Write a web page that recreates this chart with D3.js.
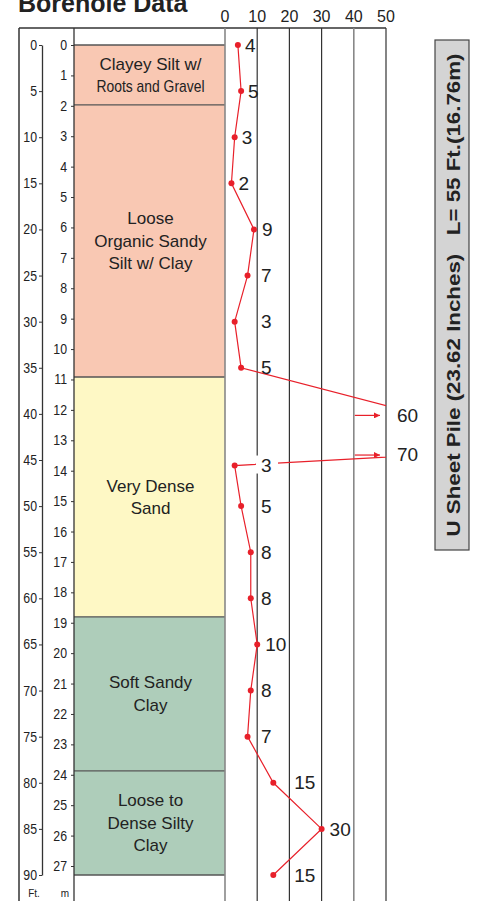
<!DOCTYPE html>
<html><head><meta charset="utf-8">
<script src="https://cdn.jsdelivr.net/npm/d3@7/dist/d3.min.js"></script>
<style>
html,body{margin:0;padding:0;background:#fff;}
svg{display:block;font-family:"Liberation Sans",Arial,sans-serif;}
</style></head>
<body>
<svg id="chart" width="481" height="901"></svg>
<script>
// ---- data ----
const ftTicks = [0,5,10,15,20,25,30,35,40,45,50,55,60,65,70,75,80,85,90];
const mTicks = [0,1,2,3,4,5,6,7,8,9,10,11,12,13,14,15,16,17,18,19,20,21,22,23,24,25,26,27];
const nTicks = [0,10,20,30,40,50];
const layerTopFt = [0, 6.5, 36, 62, 78.7];
const layerBottomFt = [6.5, 36, 62, 78.7, 90];
const layerNames = [
  ["Clayey Silt w/","Roots and Gravel"],
  ["Loose","Organic Sandy","Silt w/ Clay"],
  ["Very Dense","Sand"],
  ["Soft Sandy","Clay"],
  ["Loose to","Dense Silty","Clay"]
];
const sptDepthFt = [0,5,10,15,20,25,30,35,40,44.3,45.6,50,55,60,65,70,75,80,85,90];
const sptN = [4,5,3,2,9,7,3,5,60,70,3,5,8,8,10,8,7,15,30,15];
const title = "Borehole Data";
const pileLabel = "U Sheet Pile (23.62 Inches)   L= 55 Ft.(16.76m)";

// ---- layout ----
const svg = d3.select("#chart");
const layerColors = ["#f9c8b3","#f9c8b3","#fef8c5","#aecdba","#aecdba"];
const red = "#e8202a";
const boxLeft = 19, boxTop = 28, H = 901;
const ftAxisX = 42, colLeft = 74;

const y = d3.scaleLinear().domain([0,90]).range([45,875]);
const yM = d3.scaleLinear().domain([0,27]).range([45,866]);
const x = d3.scaleLinear().domain([0,50]).range([225,386]);

// title
svg.append("text").attr("x",18).attr("y",12).attr("font-size",25).attr("font-weight","bold")
  .attr("fill","#222").text(title);

// layers
const layers = layerNames.map((n,i)=>({names:n, top:layerTopFt[i], bot:layerBottomFt[i], color:layerColors[i]}));
svg.selectAll("rect.layer").data(layers).join("rect")
  .attr("x",colLeft).attr("width",x(0)-colLeft)
  .attr("y",d=>y(d.top)).attr("height",d=>y(d.bot)-y(d.top))
  .attr("fill",d=>d.color);
const bounds = [layerTopFt[0]].concat(layerBottomFt);
svg.selectAll("line.bound").data(bounds).join("line")
  .attr("x1",colLeft).attr("x2",x(0)).attr("y1",d=>y(d)).attr("y2",d=>y(d))
  .attr("stroke","#555").attr("stroke-width",1.3);

// layer labels
layers.forEach(L=>{
  const cy = (y(L.top)+y(L.bot))/2;
  const lh = 22.5;
  const n = L.names.length;
  L.names.forEach((t,j)=>{
    const tx = svg.append("text").attr("x",(colLeft+x(0))/2+1)
      .attr("y",cy+(j-(n-1)/2)*lh).attr("dy","0.35em")
      .attr("text-anchor","middle").attr("font-size",17).attr("fill","#222").text(t);
    if (tx.node().getComputedTextLength() > 122) {
      tx.attr("textLength",108).attr("lengthAdjust","spacingAndGlyphs");
    }
  });
});

// frame lines
svg.append("line").attr("x1",boxLeft).attr("x2",x(50)).attr("y1",boxTop).attr("y2",boxTop).attr("stroke","#333").attr("stroke-width",1.3);
svg.append("line").attr("x1",boxLeft).attr("x2",boxLeft).attr("y1",boxTop).attr("y2",H).attr("stroke","#333").attr("stroke-width",1.5);
svg.append("line").attr("x1",colLeft).attr("x2",colLeft).attr("y1",boxTop).attr("y2",H).attr("stroke","#333").attr("stroke-width",1.3);

// grid lines for N
svg.selectAll("line.grid").data(nTicks).join("line")
  .attr("x1",d=>x(d)).attr("x2",d=>x(d)).attr("y1",boxTop).attr("y2",H)
  .attr("stroke",d=>(d===0||d===40)?"#888":"#333").attr("stroke-width",d=>(d===0||d===40)?1.6:1.2);

// N tick labels
svg.selectAll("text.ntick").data(nTicks).join("text")
  .attr("x",d=>x(d)).attr("y",22).attr("text-anchor","middle")
  .attr("font-size",16).attr("fill","#222").text(d=>d);

// Ft axis
const ftAxis = svg.append("g").attr("transform",`translate(${ftAxisX},0)`)
  .call(d3.axisLeft(y).tickValues(ftTicks).tickSize(3).tickPadding(2).tickSizeOuter(0));
ftAxis.select(".domain").attr("stroke","#333").attr("stroke-width",1.3);
ftAxis.selectAll(".tick line").attr("stroke","#333");
ftAxis.selectAll("text").attr("font-family","'Liberation Sans',Arial,sans-serif").attr("font-size",14).attr("fill","#222")
  .each(function(){ const w=this.getComputedTextLength(); d3.select(this).attr("textLength",w*0.88).attr("lengthAdjust","spacingAndGlyphs"); });

// m axis
const mAxis = svg.append("g").attr("transform",`translate(${colLeft},0)`)
  .call(d3.axisLeft(yM).tickValues(mTicks).tickSize(3).tickPadding(4).tickSizeOuter(0));
mAxis.select(".domain").remove();
mAxis.selectAll(".tick line").attr("stroke","#333");
mAxis.selectAll("text").attr("font-family","'Liberation Sans',Arial,sans-serif").attr("font-size",14).attr("fill","#222")
  .each(function(){ const w=this.getComputedTextLength(); d3.select(this).attr("textLength",w*0.88).attr("lengthAdjust","spacingAndGlyphs"); });

// unit labels
svg.append("text").attr("x",34).attr("y",897).attr("text-anchor","middle").attr("font-size",10).attr("fill","#222").text("Ft.");
svg.append("text").attr("x",65).attr("y",897).attr("text-anchor","middle").attr("font-size",10).attr("fill","#222").text("m");

// SPT line (clipped to 0..50)
svg.append("clipPath").attr("id","clipN").append("rect")
  .attr("x",x(0)).attr("y",0).attr("width",x(50)-x(0)).attr("height",H);
const pts = sptN.map((n,i)=>({n, d:sptDepthFt[i], i}));
const line = d3.line().x(d=>x(d.n)).y(d=>y(d.d));
const g = svg.append("g").attr("clip-path","url(#clipN)");
g.append("path").datum(pts).attr("d",line).attr("fill","none").attr("stroke",red).attr("stroke-width",1.2);

const labelX = p => {
  if (p.d < 20) return x(p.n)+7;
  const dx = p.n===15 ? 21 : 8;
  return Math.max(x(p.n)+dx, 261);
};
// white background behind the "3" that sits on the line
pts.filter(p=>p.n<=50).forEach(p=>{
  if (p.d>44 && p.d<46) {
    svg.append("rect").attr("x",labelX(p)-5).attr("y",y(p.d)-10).attr("width",22).attr("height",18).attr("fill","#fff");
  }
});

g.selectAll("circle").data(pts.filter(p=>p.n<=50)).join("circle")
  .attr("cx",d=>x(d.n)).attr("cy",d=>y(d.d)).attr("r",3).attr("fill",red);

svg.selectAll("text.nlab").data(pts.filter(p=>p.n<=50)).join("text")
  .attr("x",d=>labelX(d)).attr("y",d=>y(d.d)).attr("dy","0.35em")
  .attr("font-size",19).attr("fill","#222").text(d=>d.n);

// off-scale values: arrows + labels
const defs = svg.append("defs");
defs.append("marker").attr("id","arr").attr("viewBox","0 0 10 10").attr("refX",10).attr("refY",5)
  .attr("markerWidth",10).attr("markerHeight",6).attr("markerUnits","userSpaceOnUse").attr("orient","auto")
  .append("path").attr("d","M0,0L10,5L0,10Z").attr("fill",red);
const offPts = pts.filter(p=>p.n>50);
svg.selectAll("line.arrow").data(offPts).join("line")
  .attr("x1",x(40)+1).attr("x2",x(50)-6).attr("y1",d=>y(d.d)+1.5).attr("y2",d=>y(d.d)+1.5)
  .attr("stroke",red).attr("stroke-width",1.2).attr("marker-end","url(#arr)");
svg.selectAll("text.offlab").data(offPts).join("text")
  .attr("x",x(50)+11).attr("y",d=>y(d.d)+1).attr("dy","0.35em")
  .attr("font-size",19).attr("fill","#222").text(d=>d.n);

// pile label box
svg.append("rect").attr("x",435).attr("y",40).attr("width",34).attr("height",510)
  .attr("fill","#d4d4d4").attr("stroke","#444").attr("stroke-width",1.2);
svg.append("text").attr("transform","translate(453,295) rotate(-90)")
  .attr("text-anchor","middle").attr("dy","0.35em").attr("font-size",19).attr("font-weight","bold")
  .attr("fill","#222").attr("textLength",483).attr("lengthAdjust","spacingAndGlyphs")
  .style("white-space","pre").text(pileLabel);
</script>
</body></html>
